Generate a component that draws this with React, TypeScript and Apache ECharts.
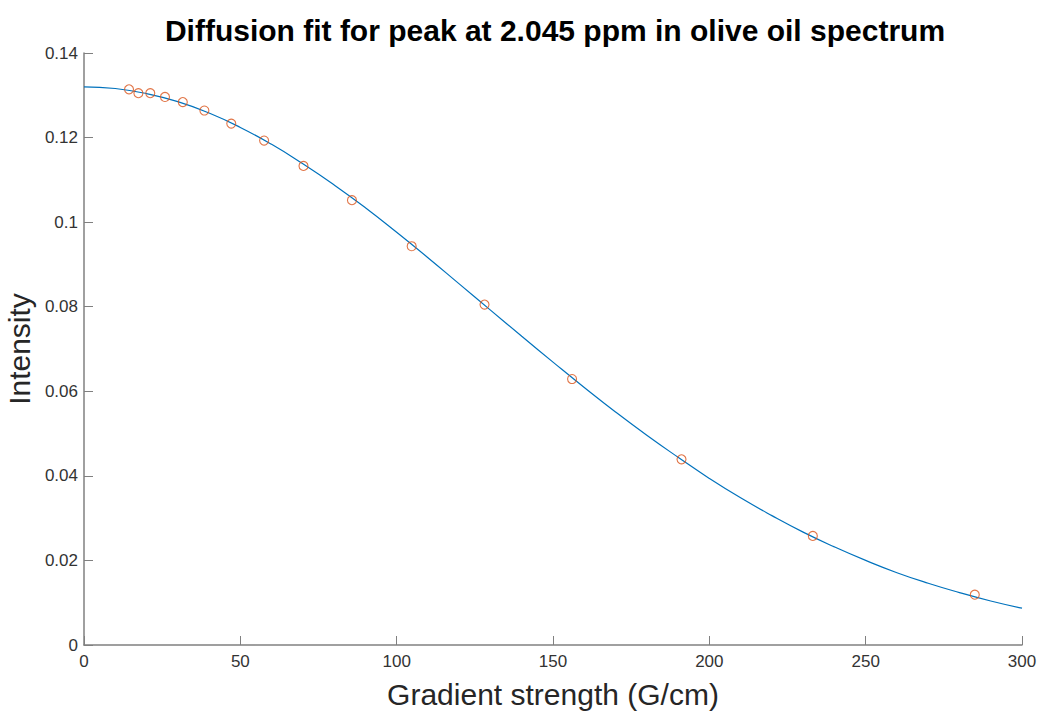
import React, { useEffect, useRef } from "react";
import * as echarts from "echarts";

const titleText = "Diffusion fit for peak at 2.045 ppm in olive oil spectrum";
const xAxisName = "Gradient strength (G/cm)";
const yAxisName = "Intensity";

// measured points
const pointX = [14.4, 17.4, 21.2, 25.9, 31.6, 38.5, 47.1, 57.6, 70.2, 85.7, 104.8, 128.1, 156.1, 191.1, 233.1, 284.9];
const pointY = [0.1314, 0.1305, 0.1305, 0.1296, 0.1284, 0.1264, 0.1233, 0.1193, 0.1133, 0.1052, 0.0943, 0.0805, 0.0629, 0.0439, 0.0258, 0.0119];

// fitted curve, read at steps of 10 G/cm
const fitX = [0, 10, 20, 30, 40, 50, 60, 70, 80, 90, 100, 110, 120, 130, 140, 150, 160, 170, 180, 190, 200, 210, 220, 230, 240, 250, 260, 270, 280, 290, 300];
const fitY = [0.1320, 0.1316, 0.1304, 0.1285, 0.1258, 0.1224, 0.1184, 0.1138, 0.1088, 0.1034, 0.0976, 0.0916, 0.0854, 0.0792, 0.0730, 0.0669, 0.0609, 0.0551, 0.0496, 0.0444, 0.0394, 0.0348, 0.0306, 0.0267, 0.0232, 0.0200, 0.0171, 0.0146, 0.0124, 0.0104, 0.0087];

const font = "'Liberation Sans', Arial, Helvetica, sans-serif";

export default function App() {
  const ref = useRef<HTMLDivElement>(null);
  useEffect(() => {
    if (!ref.current) return;
    const chart = echarts.init(ref.current, undefined, { renderer: "svg" });
    chart.setOption({
      animation: false,
      backgroundColor: "#ffffff",
      title: {
        text: titleText,
        left: 550,
        textAlign: "center",
        top: 10,
        textStyle: { fontFamily: font, fontSize: 30, fontWeight: "bold", color: "#000000" },
      },
      grid: { left: 84, right: 27, top: 53, bottom: 75, containLabel: false, outerBoundsMode: "none" },
      xAxis: {
        type: "value",
        min: 0,
        max: 300,
        interval: 50,
        name: xAxisName,
        nameLocation: "middle",
        nameGap: 34,
        nameTextStyle: { fontFamily: font, fontSize: 30, color: "#262626" },
        axisLine: { show: true, lineStyle: { color: "#808080", width: 1.5 } },
        axisTick: { show: true, inside: true, length: 9, lineStyle: { color: "#808080" } },
        axisLabel: { fontFamily: font, fontSize: 17, color: "#333333", margin: 8 },
        splitLine: { show: false },
      },
      yAxis: {
        type: "value",
        min: 0,
        max: 0.14,
        interval: 0.02,
        name: yAxisName,
        nameLocation: "middle",
        nameGap: 48,
        nameRotate: 90,
        nameTextStyle: { fontFamily: font, fontSize: 30, color: "#262626" },
        axisLine: { show: true, lineStyle: { color: "#808080", width: 1.5 } },
        axisTick: { show: true, inside: true, length: 9, lineStyle: { color: "#808080" } },
        axisLabel: {
          fontFamily: font,
          fontSize: 17,
          color: "#333333",
          margin: 6,
          formatter: (v: number) => String(parseFloat(v.toFixed(4))),
        },
        splitLine: { show: false },
      },
      series: [
        {
          type: "line",
          data: fitX.map((x, i) => [x, fitY[i]]),
          smooth: true,
          showSymbol: false,
          lineStyle: { color: "#0072BD", width: 1.2 },
          z: 2,
        },
        {
          type: "scatter",
          data: pointX.map((x, i) => [x, pointY[i]]),
          symbol: "circle",
          symbolSize: 9,
          itemStyle: { color: "rgba(0,0,0,0)", borderColor: "#D95319", borderWidth: 1.1 },
          z: 3,
        },
      ],
    });
    return () => chart.dispose();
  }, []);
  return (
    <div
      ref={ref}
      style={{ position: "fixed", left: 0, top: 0, width: 1049, height: 720, background: "#fff" }}
    />
  );
}
